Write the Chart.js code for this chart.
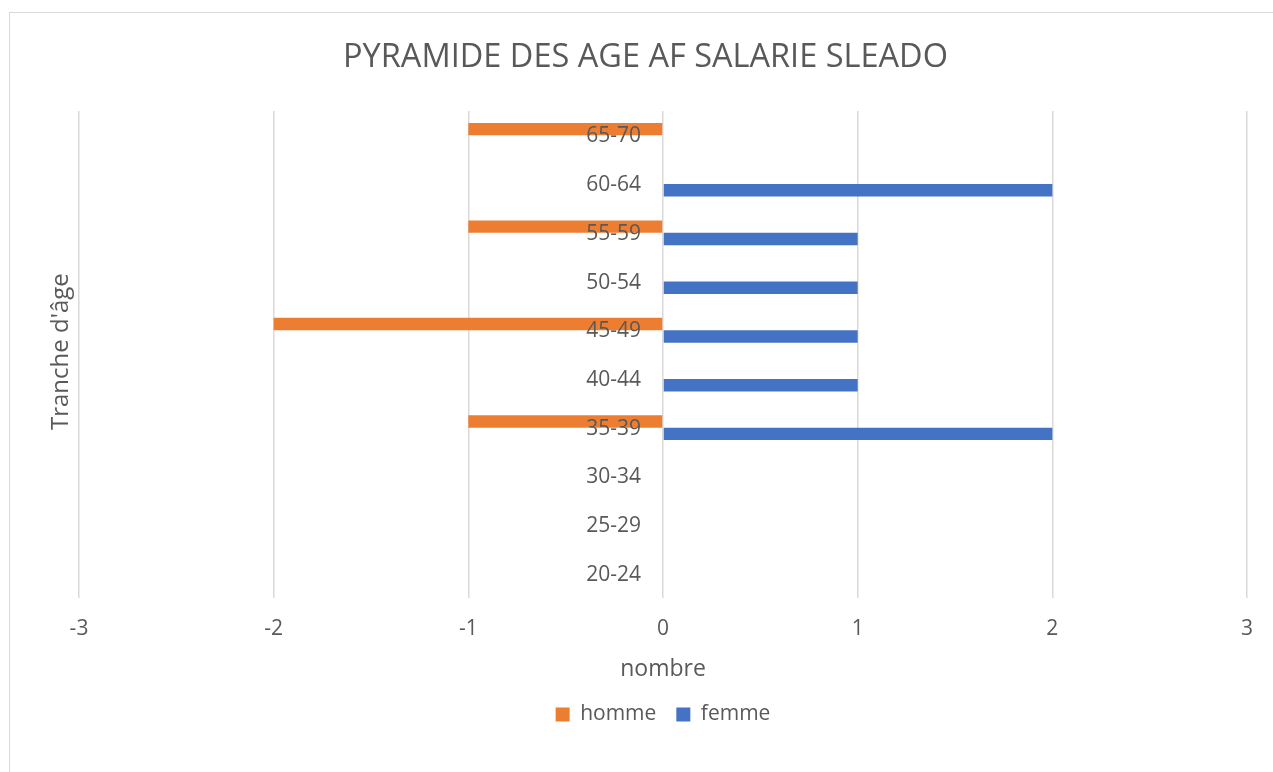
<!DOCTYPE html>
<html lang="fr">
<head>
    <meta charset="UTF-8">
    <title>Pyramide des âges</title>
    <script src="https://cdn.jsdelivr.net/npm/chart.js"></script>
    <style>
        html, body { margin: 0; padding: 0; background: #fff; overflow: hidden; }
        .frame {
            position: absolute; left: 9px; top: 12px;
            width: 1280px; height: 780px;
            border: 1px solid #d9d9d9; box-sizing: border-box;
        }
        canvas { position: absolute; left: 0; top: 0; }
    </style>
</head>
<body>

<div class="frame"></div>
<canvas id="pyramid" width="1273" height="772"></canvas>

<script>
    // Age groups, top to bottom
    const ageGroups = ["65-70", "60-64", "55-59", "50-54", "45-49", "40-44", "35-39", "30-34", "25-29", "20-24"];
    // men are plotted on the negative side
    const homme = [-1, 0, -1, 0, -2, 0, -1, 0, 0, 0];
    const femme = [0, 2, 1, 1, 1, 1, 2, 0, 0, 0];
    const xTicks = [-3, -2, -1, 0, 1, 2, 3];

    const chartTitle = "PYRAMIDE DES AGE AF SALARIE SLEADO";
    const yTitle = "Tranche d'âge";

    const textColor = "#595959";
    const gridColor = "#d9d9d9";
    const fontFamily = "'Open Sans', 'Noto Sans', sans-serif";

    // Chart title (centred on the frame, not on the plot) and the vertical axis title
    const titlesPlugin = {
        id: "titles",
        afterDraw(chart) {
            const ctx = chart.ctx;
            const area = chart.chartArea;
            ctx.save();
            ctx.fillStyle = textColor;
            ctx.textAlign = "center";
            ctx.textBaseline = "middle";

            ctx.font = "32.5px " + fontFamily;
            ctx.fillText(chartTitle, 645.5, 58);

            ctx.translate(61, (area.top + area.bottom) / 2 - 3);
            ctx.rotate(-Math.PI / 2);
            ctx.font = "24px " + fontFamily;
            ctx.fillText(yTitle, 0, 0);
            ctx.restore();
        }
    };

    // Category labels sit next to the zero line, over the bars (like Excel)
    const centerLabelsPlugin = {
        id: "centerLabels",
        afterDatasetsDraw(chart) {
            const ctx = chart.ctx;
            const xScale = chart.scales.x;
            const yScale = chart.scales.y;
            const x0 = xScale.getPixelForValue(0);
            ctx.save();
            ctx.font = "21px " + fontFamily;
            ctx.fillStyle = textColor;
            ctx.textAlign = "right";
            ctx.textBaseline = "middle";
            chart.data.labels.forEach((label, i) => {
                ctx.fillText(label, x0 - 22, yScale.getPixelForTick(i) + 1);
            });
            ctx.restore();
        }
    };

    new Chart(document.getElementById("pyramid"), {
        type: "bar",
        data: {
            labels: ageGroups,
            datasets: [
                {
                    label: "homme",
                    data: homme,
                    backgroundColor: "#ed7d31",
                    categoryPercentage: 0.51,
                    barPercentage: 1.0
                },
                {
                    label: "femme",
                    data: femme,
                    backgroundColor: "#4472c4",
                    categoryPercentage: 0.51,
                    barPercentage: 1.0
                }
            ]
        },
        options: {
            indexAxis: "y",
            responsive: false,
            animation: false,
            layout: {
                padding: { top: 111, left: 79, right: 26, bottom: 37 }
            },
            scales: {
                x: {
                    min: -3,
                    max: 3,
                    afterBuildTicks: axis => { axis.ticks = xTicks.map(v => ({ value: v })); },
                    grid: { color: gridColor, lineWidth: 1.5, drawTicks: false },
                    border: { display: false },
                    ticks: {
                        color: textColor,
                        padding: 18,
                        font: { family: fontFamily, size: 21 }
                    },
                    title: {
                        display: true,
                        text: "nombre",
                        color: textColor,
                        padding: { top: -4, bottom: 1 },
                        font: { family: fontFamily, size: 23 }
                    }
                },
                y: {
                    position: { x: 0 },
                    grid: { display: false },
                    border: { display: false },
                    ticks: { display: false }
                }
            },
            plugins: {
                title: { display: false },
                legend: {
                    position: "bottom",
                    labels: {
                        color: textColor,
                        boxWidth: 14,
                        boxHeight: 14,
                        padding: 20,
                        font: { family: fontFamily, size: 21 }
                    }
                },
                tooltip: { enabled: false }
            }
        },
        plugins: [titlesPlugin, centerLabelsPlugin]
    });
</script>

</body>
</html>
